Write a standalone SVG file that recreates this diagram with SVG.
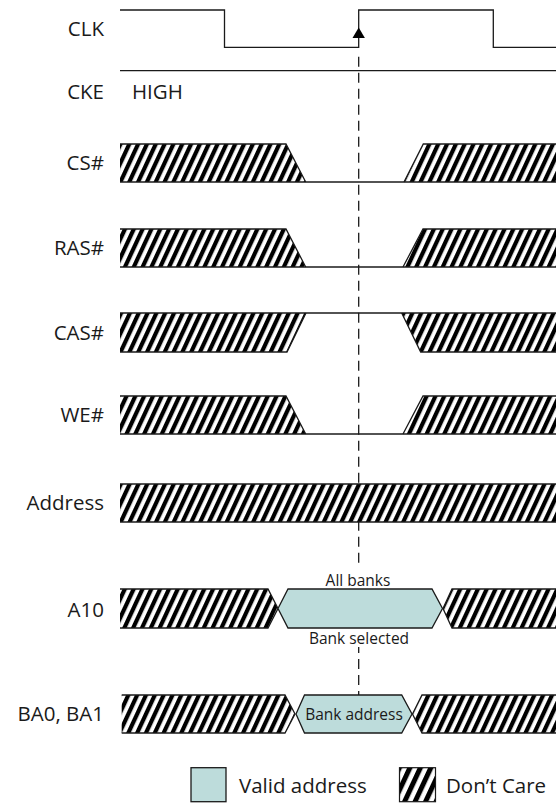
<svg xmlns="http://www.w3.org/2000/svg" width="556" height="803" viewBox="0 0 556 803">
<defs>
<pattern id="hatch" patternUnits="userSpaceOnUse" width="8" height="8" patternTransform="rotate(25)">
<rect width="8" height="8" fill="#fff"/>
<rect width="4.2" height="8" fill="#000"/>
</pattern>
<pattern id="hatchL" patternUnits="userSpaceOnUse" width="9.5" height="9.5" patternTransform="rotate(25)">
<rect width="9.5" height="9.5" fill="#fff"/>
<rect width="5" height="9.5" fill="#000"/>
</pattern>
<style>
.lbl{font-family:"Open Sans","Liberation Sans",sans-serif;font-size:20.5px;fill:#1a1a1a}
.sm{font-family:"Open Sans","Liberation Sans",sans-serif;font-size:15.5px;fill:#1a1a1a;text-anchor:middle}
.w{fill:none;stroke:#1a1a1a;stroke-width:1.3}
.h{fill:url(#hatch);stroke:none}
.v{fill:#bddcdb;stroke:#1a1a1a;stroke-width:1.3}
.dash{fill:none;stroke:#1a1a1a;stroke-width:1.3;stroke-dasharray:10 6}
</style>
</defs>
<rect width="556" height="803" fill="#fff"/>

<g id="connectors">
<line class="dash" x1="358.7" y1="56.7" x2="358.7" y2="568.7"/>
<line class="dash" x1="358.7" y1="647" x2="358.7" y2="695" stroke-dashoffset="4"/>
</g>

<g id="clk">
<text class="lbl" x="104" y="36" text-anchor="end">CLK</text>
<polyline class="w" points="120,10 224.5,10 224.5,47.3 358.7,47.3 358.7,10 493.3,10 493.3,47.3 556,47.3"/>
<polygon points="358.7,27.5 352.5,38 364.9,38" fill="#000"/>
</g>

<g id="cke">
<text class="lbl" x="104" y="99" text-anchor="end">CKE</text>
<text class="lbl" x="132" y="99">HIGH</text>
<line class="w" x1="120" y1="70.7" x2="556" y2="70.7"/>
</g>

<g id="cs">
<text class="lbl" x="104" y="170" text-anchor="end">CS#</text>
<polygon class="h" points="120,144 286,144 305.7,182 120,182"/>
<polygon class="h" points="404,182 423.3,144 556,144 556,182"/>
<polyline class="w" points="120,144 286,144 305.7,182"/>
<polyline class="w" points="404,182 423.3,144 556,144"/>
<line class="w" x1="120" y1="182" x2="556" y2="182"/>
</g>

<g id="ras">
<text class="lbl" x="104" y="255" text-anchor="end">RAS#</text>
<polygon class="h" points="120,229 286,229 305.7,267 120,267"/>
<polygon class="h" points="403,267 423,229 556,229 556,267"/>
<polyline class="w" points="120,229 286,229 305.7,267"/>
<polyline class="w" points="403,267 423,229 556,229"/>
<line class="w" x1="120" y1="267" x2="556" y2="267"/>
</g>

<g id="cas">
<text class="lbl" x="104" y="340" text-anchor="end">CAS#</text>
<polygon class="h" points="120,313 306,313 287,352 120,352"/>
<polygon class="h" points="401.7,313 420.7,352 556,352 556,313"/>
<polyline class="w" points="120,352 287,352 306,313"/>
<polyline class="w" points="401.7,313 420.7,352 556,352"/>
<line class="w" x1="120" y1="313" x2="556" y2="313"/>
</g>

<g id="we">
<text class="lbl" x="104" y="422" text-anchor="end">WE#</text>
<polygon class="h" points="120,396 286,396 305.7,434 120,434"/>
<polygon class="h" points="403,434 423,396 556,396 556,434"/>
<polyline class="w" points="120,396 286,396 305.7,434"/>
<polyline class="w" points="403,434 423,396 556,396"/>
<line class="w" x1="120" y1="434" x2="556" y2="434"/>
</g>

<g id="address">
<text class="lbl" x="104" y="510" text-anchor="end">Address</text>
<rect class="h" x="120" y="484" width="436" height="38"/>
<line class="w" x1="120" y1="484" x2="556" y2="484"/>
<line class="w" x1="120" y1="522" x2="556" y2="522"/>
</g>

<g id="a10">
<text class="lbl" x="104" y="617" text-anchor="end">A10</text>
<polygon class="h" points="120,589 268,589 278,608.5 268,628 120,628"/>
<polyline class="w" points="120,589 268,589 278,608.5 268,628 120,628"/>
<polygon class="v" points="278,608.5 288,589 432,589 442.5,608.5 432,628 288,628"/>
<polygon class="h" points="443,608.5 452,589 556,589 556,628 452,628"/>
<polyline class="w" points="556,589 452,589 443,608.5 452,628 556,628"/>
<text class="sm" x="358" y="586">All banks</text>
<text class="sm" x="359" y="644">Bank selected</text>
</g>

<g id="ba">
<text class="lbl" x="104" y="721" text-anchor="end">BA0, BA1</text>
<polygon class="h" points="121.7,695 285,695 295,714 285,733 121.7,733"/>
<polyline class="w" points="121.7,695 285,695 295,714 285,733 121.7,733"/>
<polygon class="v" points="296,714 304.5,695 401.7,695 412,714 401.7,733 304.5,733"/>
<polygon class="h" points="412.5,714 422,695 556,695 556,733 422,733"/>
<polyline class="w" points="556,695 422,695 412.5,714 422,733 556,733"/>
<text class="sm" x="354" y="719.5">Bank address</text>
</g>

<g id="legend">
<rect class="v" x="191" y="767.7" width="35" height="34"/>
<text class="lbl" x="239" y="793">Valid address</text>
<rect x="399.5" y="767.7" width="36" height="34" fill="url(#hatchL)" stroke="#1a1a1a" stroke-width="1.2"/>
<text class="lbl" x="446" y="793">Don’t Care</text>
</g>
</svg>
